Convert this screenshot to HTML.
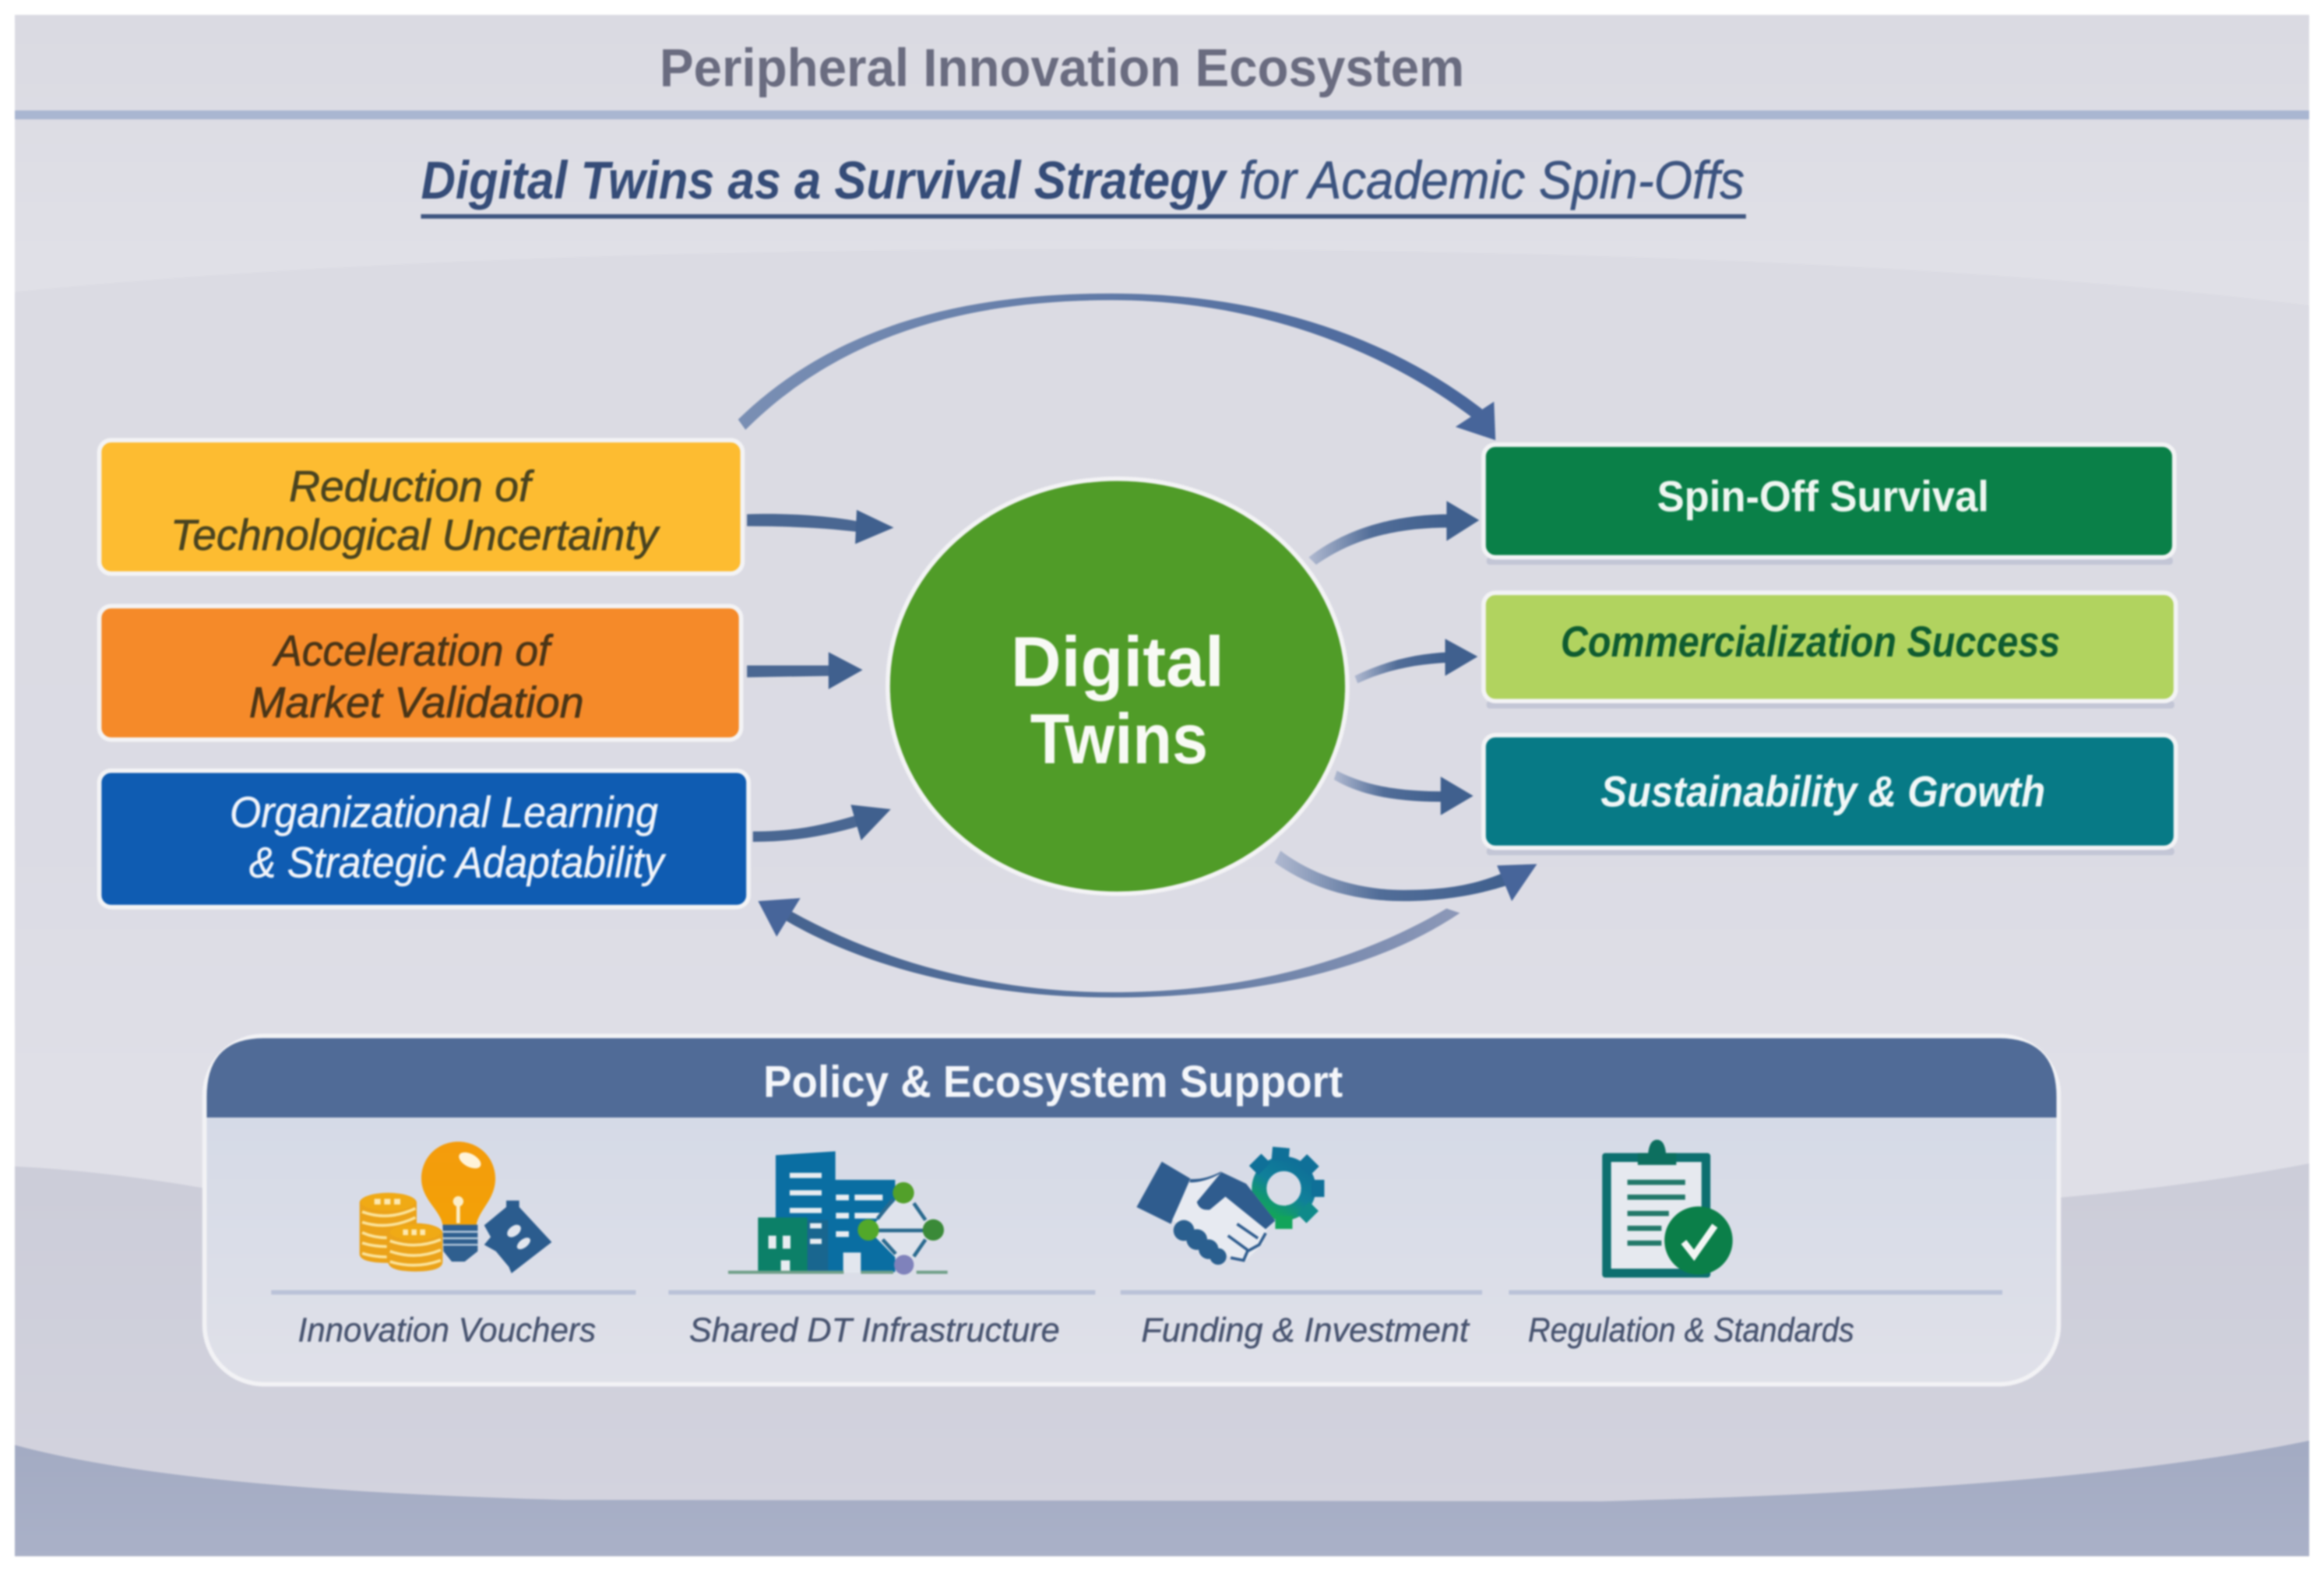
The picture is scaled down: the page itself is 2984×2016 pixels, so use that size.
<!DOCTYPE html>
<html><head><meta charset="utf-8"><title>Peripheral Innovation Ecosystem</title>
<style>
html,body{margin:0;padding:0;background:#fff;width:2984px;height:2016px;overflow:hidden}
svg{display:block;filter:blur(1.1px)}
text{font-family:"Liberation Sans",sans-serif}
</style></head><body>
<svg xmlns="http://www.w3.org/2000/svg" width="2984" height="2016" viewBox="0 0 1568 1059.3">
<defs>
<linearGradient id="bgTop" gradientUnits="userSpaceOnUse" x1="0" y1="10" x2="0" y2="170"><stop offset="0" stop-color="#dadae2"/><stop offset="1" stop-color="#e0e0e7"/></linearGradient>
<linearGradient id="bgMid" gradientUnits="userSpaceOnUse" x1="0" y1="170" x2="0" y2="720"><stop offset="0" stop-color="#dbdbe3"/><stop offset=".7" stop-color="#dbdbe4"/><stop offset="1" stop-color="#dfdfe7"/></linearGradient>
<linearGradient id="band" gradientUnits="userSpaceOnUse" x1="0" y1="790" x2="0" y2="1010"><stop offset="0" stop-color="#cccdd9"/><stop offset="1" stop-color="#d3d3de"/></linearGradient>
<linearGradient id="bot" gradientUnits="userSpaceOnUse" x1="0" y1="975" x2="0" y2="1050"><stop offset="0" stop-color="#a3abc3"/><stop offset="1" stop-color="#aab1c8"/></linearGradient>
<linearGradient id="panel" gradientUnits="userSpaceOnUse" x1="0" y1="750" x2="0" y2="935"><stop offset="0" stop-color="#d5dae7"/><stop offset="1" stop-color="#e0e1e9"/></linearGradient>
<linearGradient id="fadeR" x1="0" y1="0" x2="1" y2="0"><stop offset="0" stop-color="#b0b9d0"/><stop offset=".45" stop-color="#516d98"/><stop offset="1" stop-color="#40608e"/></linearGradient>
<linearGradient id="arcT" x1="0" y1="0" x2="1" y2="0"><stop offset="0" stop-color="#7a8fb4"/><stop offset="1" stop-color="#47659a"/></linearGradient>
<linearGradient id="arcB" x1="1" y1="0" x2="0" y2="0"><stop offset="0" stop-color="#8c98b8"/><stop offset=".5" stop-color="#5c76a0"/><stop offset="1" stop-color="#46638f"/></linearGradient>
<linearGradient id="gear" x1="0.8" y1="0" x2="0.2" y2="1"><stop offset="0" stop-color="#0f7098"/><stop offset=".5" stop-color="#10809a"/><stop offset="1" stop-color="#12a45a"/></linearGradient>
<linearGradient id="bulbG" x1="0" y1="0" x2="0" y2="1"><stop offset="0" stop-color="#f49c0c"/><stop offset="1" stop-color="#f3a107"/></linearGradient>
</defs>

<!-- background -->
<rect x="10" y="10" width="1548" height="1040" fill="url(#bgTop)"/>
<path d="M10,197 Q300,168 750,168 Q1250,168 1558,206 L1558,1050 L10,1050 Z" fill="url(#bgMid)"/>
<path d="M10,787 Q70,790 140,802 L1390,808 Q1480,800 1558,785 L1558,1050 L10,1050 Z" fill="url(#band)"/>
<path d="M10,975 Q120,1005 380,1012 L1080,1013 Q1400,1005 1558,972 L1558,1050 L10,1050 Z" fill="url(#bot)"/>

<!-- title -->
<text x="445" y="58" font-size="36" font-weight="bold" fill="#6a6c80" textLength="543" lengthAdjust="spacingAndGlyphs">Peripheral Innovation Ecosystem</text>
<rect x="10" y="74.500" width="1548" height="6" fill="#a9b6d1"/>
<text x="284" y="134" font-size="36" font-weight="bold" font-style="italic" fill="#354c78" textLength="543" lengthAdjust="spacingAndGlyphs">Digital Twins as a Survival Strategy</text>
<text x="836" y="134" font-size="36" font-style="italic" fill="#3c5480" stroke="#3c5480" stroke-width=".3" textLength="341" lengthAdjust="spacingAndGlyphs">for Academic Spin-Offs</text>
<rect x="284" y="144.500" width="894" height="3" fill="#3f5680"/>

<!-- big arcs -->
<path d="M498,283 C570,213 665,198 750,198 C850,198 935,226 1000,276 L995,283 C935,237 850,202.500 750,202.500 C670,202.500 575,218 503,290 Z" fill="url(#arcT)"/>
<polygon points="1009,297 1008,271 982,288" fill="#47659a"/>
<path d="M985,616 C920,660 830,673 750,673 C670,673 590,656 530,621 L534,615 C595,649 670,669.500 750,669.500 C825,669.500 905,655 976,613 Z" fill="url(#arcB)"/>
<polygon points="511.500,608 540,606 524,632" fill="#47659a"/>
<path d="M860,582 C885,600 915,608 947,608 C975,608 1000,603 1018,597 L1014,589 C995,597 975,600.500 947,600.500 C915,600.500 885,590 864,574 Z" fill="url(#fadeR)"/>
<polygon points="1037,583 1010,584 1020,608" fill="#47659a"/>

<!-- small arrows -->
<path d="M504,347 C530,346 560,348 580,352 L580,359 C555,356 530,355 504,355 Z" fill="#4a6792"/>
<polygon points="603,356 578,344 577,367" fill="#40608e"/>
<path d="M504,449 L562,449 L562,456 L504,457 Z" fill="#4a6792"/>
<polygon points="582,452 559,440 559,465" fill="#40608e"/>
<path d="M508,561 C535,561 555,557 578,550 L581,557 C558,564 535,568 508,568 Z" fill="#4a6792"/>
<polygon points="601,546 574,543 581,567" fill="#40608e"/>
<path d="M883,376 C910,355 945,347 978,347 L978,356 C945,356 915,362 888,381 Z" fill="url(#fadeR)"/>
<polygon points="998,351 976,338 976,365" fill="#40608e"/>
<path d="M914,456 C935,446 955,441 978,440 L978,447 C955,448 935,452 916,461 Z" fill="url(#fadeR)"/>
<polygon points="997,443 975,431 975,456" fill="#40608e"/>
<path d="M902,520 C925,532 950,534 975,534 L975,541 C950,541 922,539 900,526 Z" fill="url(#fadeR)"/>
<polygon points="994,537 972,524 972,550" fill="#40608e"/>

<!-- left boxes -->
<rect x="67" y="297" width="434" height="90" rx="8" fill="#fdbc31" stroke="#f3f3f5" stroke-width="3"/>
<rect x="67" y="409" width="433" height="90" rx="8" fill="#f58a29" stroke="#f3f3f5" stroke-width="3"/>
<rect x="67" y="520" width="438" height="92" rx="8" fill="#0f5cb2" stroke="#f3f3f5" stroke-width="3"/>
<g font-size="29" font-style="italic">
<g fill="#4a4420" stroke="#4a4420" stroke-width=".35">
<text x="195" y="338" textLength="163" lengthAdjust="spacingAndGlyphs">Reduction of</text>
<text x="115" y="371" textLength="329" lengthAdjust="spacingAndGlyphs">Technological Uncertainty</text>
</g>
<g fill="#4a3517" stroke="#4a3517" stroke-width=".35">
<text x="185" y="449" textLength="186" lengthAdjust="spacingAndGlyphs">Acceleration of</text>
<text x="168" y="484" textLength="226" lengthAdjust="spacingAndGlyphs">Market Validation</text>
</g>
<g fill="#f1f4fa" stroke="#f1f4fa" stroke-width=".25">
<text x="155" y="558" textLength="289" lengthAdjust="spacingAndGlyphs">Organizational Learning</text>
<text x="168" y="592" textLength="280" lengthAdjust="spacingAndGlyphs">&amp; Strategic Adaptability</text>
</g>
</g>

<!-- circle -->
<ellipse cx="754" cy="463" rx="155" ry="140" fill="#509c28" stroke="#f3f3f5" stroke-width="3"/>
<g font-size="48" font-weight="bold" fill="#f8faf5">
<text x="682" y="463" textLength="144" lengthAdjust="spacingAndGlyphs">Digital</text>
<text x="695" y="515" textLength="120" lengthAdjust="spacingAndGlyphs">Twins</text>
</g>

<!-- right boxes -->
<g fill="#c3c6d6">
<rect x="1003" y="376" width="463" height="5" rx="2"/>
<rect x="1003" y="473" width="464" height="5" rx="2"/>
<rect x="1003" y="572" width="464" height="5" rx="2"/>
</g>
<rect x="1001" y="300" width="466" height="76" rx="8" fill="#0a8048" stroke="#f3f3f5" stroke-width="3"/>
<rect x="1001" y="400" width="467" height="73" rx="8" fill="#b1d35f" stroke="#f3f3f5" stroke-width="3"/>
<rect x="1001" y="496" width="467" height="76" rx="8" fill="#077a86" stroke="#f3f3f5" stroke-width="3"/>
<text x="1118" y="345" font-size="29" font-weight="bold" fill="#eef6f0" textLength="224" lengthAdjust="spacingAndGlyphs">Spin-Off Survival</text>
<text x="1053" y="443" font-size="29" font-weight="bold" font-style="italic" fill="#0f5c30" textLength="337" lengthAdjust="spacingAndGlyphs">Commercialization Success</text>
<text x="1080" y="544" font-size="29" font-weight="bold" font-style="italic" fill="#f0f7f7" textLength="300" lengthAdjust="spacingAndGlyphs">Sustainability &amp; Growth</text>

<!-- panel -->
<rect x="138" y="699" width="1251" height="235" rx="40" fill="url(#panel)" stroke="#f2f2f5" stroke-width="3"/>
<path d="M139.500,754 L139.500,740 Q139.500,700.500 178,700.500 L1349,700.500 Q1387.500,700.500 1387.500,740 L1387.500,754 Z" fill="#506b97"/>
<text x="515" y="740" font-size="30" font-weight="bold" fill="#f4f6fa" textLength="391" lengthAdjust="spacingAndGlyphs">Policy &amp; Ecosystem Support</text>

<g fill="#bac2d8">
<rect x="183" y="870.500" width="246" height="3"/>
<rect x="451" y="870.500" width="288" height="3"/>
<rect x="756" y="870.500" width="244" height="3"/>
<rect x="1018" y="870.500" width="333" height="3"/>
</g>
<g font-size="23" font-style="italic" fill="#47536f" stroke="#47536f" stroke-width=".2">
<text x="201" y="905" textLength="201" lengthAdjust="spacingAndGlyphs">Innovation Vouchers</text>
<text x="465" y="905" textLength="250" lengthAdjust="spacingAndGlyphs">Shared DT Infrastructure</text>
<text x="770" y="905" textLength="221" lengthAdjust="spacingAndGlyphs">Funding &amp; Investment</text>
<text x="1031" y="905" textLength="220" lengthAdjust="spacingAndGlyphs">Regulation &amp; Standards</text>
</g>

<!-- icon 1: coins, bulb, tag -->
<g transform="translate(231.200,761.900) scale(.1752)">
<path d="M65,283 A110,38 0 0 1 285,283 L285,480 Q285,515 175,515 Q65,515 65,480 Z" fill="#eba31a"/>
<g fill="none" stroke="#fbe39a" stroke-width="11">
<path d="M75,318 Q175,355 280,305"/><path d="M75,358 Q175,390 280,340"/><path d="M75,398 Q120,418 170,418"/><path d="M75,438 Q120,452 170,452"/><path d="M75,478 Q120,492 170,492"/>
</g>
<ellipse cx="175" cy="280" rx="105" ry="34" fill="#f0aa15"/>
<g fill="#fde9b0"><rect x="122" y="268" width="24" height="22"/><rect x="160" y="268" width="24" height="22"/><rect x="198" y="268" width="24" height="22"/></g>
<path d="M175,400 A105,38 0 0 1 385,400 L385,510 Q385,548 280,548 Q175,548 175,510 Z" fill="#eba31a"/>
<g fill="none" stroke="#fbe39a" stroke-width="11">
<path d="M182,430 Q280,465 378,425"/><path d="M182,470 Q280,505 378,465"/><path d="M182,510 Q280,540 378,505"/>
</g>
<ellipse cx="280" cy="397" rx="98" ry="30" fill="#f0aa15"/>
<g fill="#fde9b0"><rect x="232" y="386" width="20" height="22"/><rect x="265" y="386" width="20" height="22"/><rect x="298" y="386" width="20" height="22"/></g>
<path d="M445,48 C525,48 588,110 588,190 C588,270 525,310 515,368 L385,368 C375,310 303,270 303,190 C303,110 365,48 445,48 Z" fill="url(#bulbG)"/>
<ellipse cx="490" cy="120" rx="46" ry="25" transform="rotate(28 490 120)" fill="#fff3d8"/>
<path d="M445,278 V362" stroke="#fbeec9" stroke-width="14"/>
<circle cx="445" cy="278" r="20" fill="#fbeec9"/>
<path d="M385,368 H520 V470 L470,510 H420 L388,470 Z" fill="#2f5f8f"/>
<g stroke="#bccfe0" stroke-width="7"><path d="M385,395 H520"/><path d="M385,420 H520"/><path d="M385,445 H520"/></g>
<path d="M630,275 H680 V300 L805,435 L650,555 L640,530 L590,470 L545,445 L570,415 L545,370 L630,300 Z" fill="#2b5c8e"/>
<ellipse cx="660" cy="392" rx="30" ry="19" transform="rotate(-38 660 392)" fill="#e2e6ee"/>
<ellipse cx="697" cy="440" rx="30" ry="16" transform="rotate(-38 697 440)" fill="#e2e6ee"/>
</g>

<!-- icon 2: buildings -->
<g transform="translate(483.400,761.900) scale(.1752)">
<path d="M228,100 L458,85 V195 H688 V550 H228 Z" fill="#0a6ea2"/>
<rect x="350" y="350" width="80" height="200" fill="#19668f"/>
<rect x="160" y="340" width="190" height="210" fill="#0c8068"/>
<g fill="#e8ecf1">
<rect x="282" y="168" width="123" height="20"/><rect x="282" y="235" width="123" height="20"/><rect x="282" y="303" width="123" height="20"/>
<rect x="360" y="362" width="45" height="20"/><rect x="360" y="422" width="45" height="20"/>
<rect x="460" y="252" width="50" height="22"/><rect x="532" y="252" width="108" height="22"/>
<rect x="460" y="322" width="50" height="22"/><rect x="532" y="322" width="120" height="22"/>
<rect x="460" y="393" width="50" height="22"/>
<rect x="200" y="410" width="30" height="50"/><rect x="255" y="410" width="30" height="50"/><rect x="248" y="505" width="35" height="45"/>
</g>
<rect x="488" y="475" width="68" height="78" fill="#e2e6ee"/>
<polygon points="720,240 585,388 720,525 835,388" fill="#dfe3ec"/>
<g stroke="#2a6a8f" stroke-width="14" fill="none"><path d="M760,285 L805,350"/><path d="M805,425 L760,490"/><path d="M620,390 H800"/><path d="M640,425 L690,480"/><path d="M620,345 L680,270"/></g>
<rect x="45" y="545" width="445" height="12" fill="#6f9f88"/><rect x="556" y="545" width="125" height="12" fill="#6f9f88"/><rect x="770" y="545" width="120" height="12" fill="#6f9f88"/>
<circle cx="720" cy="245" r="41" fill="#52a02a"/>
<circle cx="585" cy="388" r="41" fill="#52a82a"/>
<circle cx="835" cy="388" r="41" fill="#3a8a38"/>
<circle cx="722" cy="522" r="38" fill="#7f82bb"/>
</g>

<!-- icon 3: handshake + gear -->
<g transform="translate(756.700,761.900) scale(.1752)">
<g stroke="url(#gear)" fill="none">
<circle cx="625" cy="228" r="95" stroke-width="57"/>
</g>
<g fill="#0f7098">
<rect x="568" y="72" width="66" height="50" transform="rotate(5 625 228)"/>
<rect x="595" y="72" width="66" height="50" transform="rotate(45 625 228)"/>
<rect x="592" y="72" width="66" height="50" transform="rotate(90 625 228)"/>
<rect x="592" y="72" width="66" height="50" transform="rotate(-45 625 228)"/>
</g>
<g fill="#0f8a8a"><rect x="592" y="72" width="66" height="50" transform="rotate(135 625 228)"/></g>
<g fill="#12a45a"><rect x="592" y="72" width="66" height="50" transform="rotate(180 625 228)"/><rect x="592" y="72" width="66" height="50" transform="rotate(225 625 228)"/></g>
<path d="M155,125 L265,190 L190,365 L58,300 Z" fill="#2f5c8e"/>
<path d="M265,195 Q320,195 385,165 L480,210 L590,350 L555,395 L545,440 L480,505 L420,495 L195,350 Z" fill="#e7eaf1"/>
<path d="M385,165 L480,210 L592,352 L555,385 L400,260 L340,310 Q300,315 290,280 Z" fill="#2f5c8e"/>
<path d="M265,192 Q325,195 385,162 L378,172 Q320,205 262,205 Z" fill="#2f5c8e"/>
<g fill="#2a5f8f"><circle cx="240" cy="390" r="40"/><circle cx="290" cy="425" r="40"/><circle cx="335" cy="462" r="38"/><circle cx="372" cy="490" r="32"/></g>
<g stroke="#2f5c8e" stroke-width="11" fill="none"><path d="M445,365 L525,420"/><path d="M410,410 L485,465"/><path d="M555,400 L530,445 L485,470 L470,505 L420,495"/></g>
</g>

<!-- icon 4: clipboard + check -->
<g>
<rect x="1081" y="778" width="73" height="84" rx="2" fill="#0d6f6f"/>
<rect x="1087" y="784" width="61" height="72" fill="#e6e9ef"/>
<path d="M1105,786 V778 H1112 Q1113,769 1118,769 Q1123,769 1124,778 H1131 V786 Z" fill="#0d6f5f"/>
<g fill="#23796a">
<rect x="1098" y="796" width="39" height="3.500"/><rect x="1098" y="806" width="39" height="3.500"/>
<rect x="1098" y="817" width="28" height="3.500"/><rect x="1098" y="827" width="23" height="3.500"/><rect x="1098" y="837" width="23" height="3.500"/>
</g>
<circle cx="1146" cy="837" r="23" fill="#0b7f49"/>
<path d="M1136,838 L1143,847 L1157,827" fill="none" stroke="#f3f6f4" stroke-width="4.500"/>
</g>
</svg>
</body></html>
